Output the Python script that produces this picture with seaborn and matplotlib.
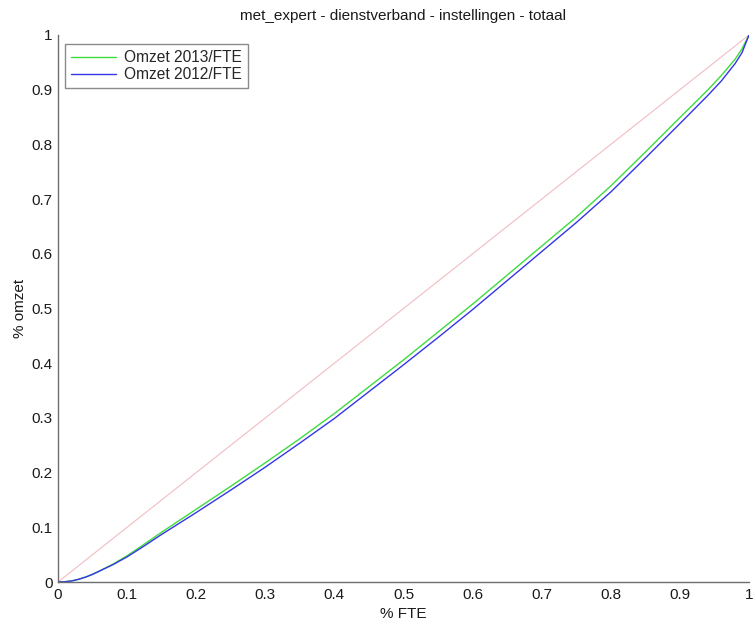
import matplotlib
matplotlib.use("Agg")
import matplotlib.pyplot as plt
import seaborn as sns
import pandas as pd

# Cumulative share of FTE (x) against cumulative share of turnover (y)
fte_share = [0.0, 0.01, 0.02, 0.03, 0.04, 0.05, 0.06, 0.08, 0.10, 0.12, 0.15,
             0.20, 0.25, 0.30, 0.35, 0.40, 0.45, 0.50, 0.55, 0.60, 0.65, 0.70,
             0.75, 0.80, 0.85, 0.90, 0.94, 0.96, 0.98, 0.99, 1.0]
omzet_2013 = [0.0, 0.0005, 0.002, 0.005, 0.009, 0.014, 0.020, 0.033, 0.048, 0.065, 0.091,
              0.133, 0.175, 0.218, 0.262, 0.308, 0.357, 0.406, 0.457, 0.508, 0.561, 0.614,
              0.667, 0.724, 0.786, 0.849, 0.899, 0.926, 0.956, 0.975, 1.0]
omzet_2012 = [0.0, 0.0005, 0.002, 0.005, 0.009, 0.014, 0.020, 0.032, 0.046, 0.062, 0.087,
              0.127, 0.168, 0.210, 0.254, 0.299, 0.348, 0.397, 0.447, 0.498, 0.551, 0.604,
              0.657, 0.713, 0.775, 0.838, 0.889, 0.916, 0.948, 0.968, 1.0]
series_labels = ["Omzet 2013/FTE", "Omzet 2012/FTE"]

# Line of perfect equality
diag_x = [0.0, 1.0]
diag_y = [0.0, 1.0]

tick_values = [0.0, 0.1, 0.2, 0.3, 0.4, 0.5, 0.6, 0.7, 0.8, 0.9, 1.0]
tick_labels = ["0", "0.1", "0.2", "0.3", "0.4", "0.5", "0.6", "0.7", "0.8", "0.9", "1"]

sns.set_style("white")
plt.rcParams["font.family"] = ["Liberation Sans", "DejaVu Sans"]

df = pd.concat([
    pd.DataFrame({"fte": fte_share, "omzet": omzet_2013, "reeks": series_labels[0]}),
    pd.DataFrame({"fte": fte_share, "omzet": omzet_2012, "reeks": series_labels[1]}),
])
diag = pd.DataFrame({"fte": diag_x, "omzet": diag_y})

fig = plt.figure(figsize=(7.53, 6.24), dpi=100)
ax = fig.add_axes([58 / 753, 42 / 624, 691 / 753, 547 / 624])

sns.lineplot(data=diag, x="fte", y="omzet", color="#f3bcc2", linewidth=0.8,
             ax=ax, legend=False)
sns.lineplot(data=df, x="fte", y="omzet", hue="reeks",
             palette={series_labels[0]: "#3ddc3d", series_labels[1]: "#3535e8"},
             linewidth=1.0, ax=ax, sort=False, estimator=None)

ax.set_xlim(0, 1)
ax.set_ylim(0, 1)
ax.set_xticks(tick_values)
ax.set_xticklabels(tick_labels)
ax.set_yticks(tick_values)
ax.set_yticklabels(tick_labels)

axis_grey = "#6e6e6e"
for side in ("top", "right"):
    ax.spines[side].set_visible(False)
for side in ("left", "bottom"):
    ax.spines[side].set_color(axis_grey)
    ax.spines[side].set_linewidth(1.0)
ax.tick_params(direction="in", length=5, width=1.0, color=axis_grey,
               labelsize=11, labelcolor="#1a1a1a", pad=4)

ax.set_xlabel("% FTE", fontsize=11, color="#1a1a1a", labelpad=4)
ax.set_ylabel("% omzet", fontsize=11, color="#1a1a1a", labelpad=3)
ax.set_title("met_expert - dienstverband - instellingen - totaal",
             fontsize=11, color="#1a1a1a", pad=11)

leg = ax.legend(loc="upper left", bbox_to_anchor=(7 / 691, 1 - 9 / 547),
                borderaxespad=0, fontsize=11.2, frameon=True, fancybox=False,
                edgecolor=axis_grey, handlelength=2.9, handletextpad=0.5,
                borderpad=0.4, labelspacing=0.12, title=None)
leg.get_frame().set_linewidth(1.0)
for h in leg.get_lines():
    h.set_linewidth(1.0)

fig.savefig("out.png", dpi=100, facecolor="white")
